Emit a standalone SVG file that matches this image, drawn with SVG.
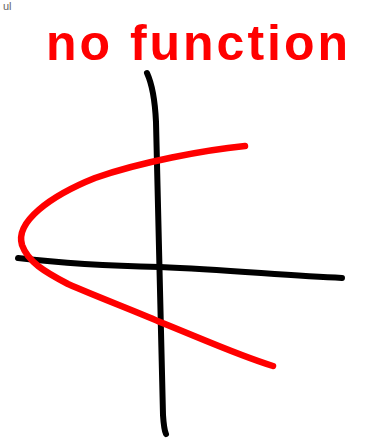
<svg xmlns="http://www.w3.org/2000/svg" width="365" height="439" viewBox="0 0 365 439">
  <style>
    .ink { fill: none; stroke-linecap: round; stroke-linejoin: round; }
    .axis { stroke: #000; stroke-width: 6; }
    .curve { stroke: #f00; stroke-width: 6.5; }
    .label { font-family: "Liberation Sans", Arial, sans-serif; font-weight: bold; fill: #f00; }
    .clip { font-family: "Liberation Sans", Arial, sans-serif; fill: #666; }
  </style>
  <rect width="365" height="439" fill="#fff"/>
  <text class="clip" x="3" y="10" font-size="11">ul</text>
  <g id="title">
    <text class="label" x="46" y="60" font-size="50" textLength="302" lengthAdjust="spacing">no function</text>
  </g>
  <g id="axes">
    <path class="ink axis" d="M147,73 C152,84 155,100 156,122 L160,290 L163,415 Q164,430 166,434"/>
    <path class="ink axis" d="M18,258 C60,263 110,266 160,267 C230,270 290,276 342,278"/>
  </g>
  <g id="curve">
    <path class="ink curve" d="M245,146 C205,150 140,162 95,178 C50,196 15,222 22,245 C28,262 45,272 68,284 C100,298 130,309 160,322 C200,338 240,356 273,366"/>
  </g>
</svg>
